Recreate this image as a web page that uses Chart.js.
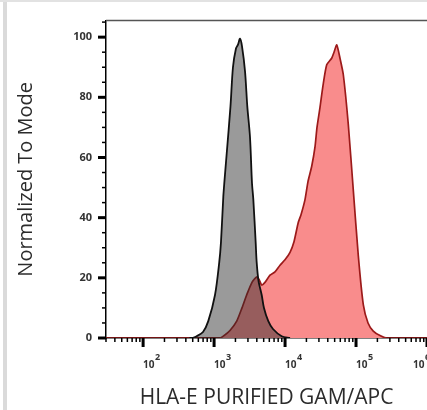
<!DOCTYPE html>
<html>
<head>
<meta charset="utf-8">
<title>HLA-E histogram</title>
<script src="https://cdn.jsdelivr.net/npm/chart.js@4.4.1/dist/chart.umd.min.js"></script>
<style>
  html, body { margin: 0; padding: 0; background: #fff; overflow: hidden; }
  #wrap { position: relative; width: 427px; height: 410px; }
  #frameLeft { position: absolute; left: 3px; top: 0; width: 4px; height: 410px; background: #dadada; }
  #frameTop { position: absolute; left: 0; top: 0; width: 427px; height: 2px; background: #e2e2e2; }
</style>
</head>
<body>
<div id="wrap">
  <canvas id="histChart" width="427" height="410"></canvas>
  <div id="frameLeft"></div>
  <div id="frameTop"></div>
</div>
<script>
// Overlaid flow cytometry histograms: isotype control (grey) vs HLA-E stained (red).

// Isotype control histogram (fluorescence intensity, % of mode)
const GREY_X = [450, 489, 569, 698, 828, 1030, 1183, 1250, 1349, 1393, 1507, 1702, 1845,
  2037, 2173, 2317, 2472, 2729, 2938, 3206, 3420, 3573, 3855, 3981, 4227, 4688, 5047,
  5808, 6761, 8974, 11749];
const GREY_Y = [0, 0, 0.6, 2, 5.6, 14.3, 25.2, 31.8, 47, 51.5, 61.4, 77, 90,
  96.3, 97.5, 99.5, 97, 88.6, 77, 66.8, 51.5, 46, 31.8, 25.2, 19, 14.3, 10,
  5.6, 3, 0.6, 0];

// HLA-E stained histogram
const RED_X = [30, 1211, 1349, 1675, 2084, 2472, 2877, 3420, 3981, 4295, 4688, 5212, 6138,
  7211, 8492, 9977, 11749, 13366, 15346, 16788, 19099, 21038, 23714, 26424, 28184, 31046,
  34277, 38637, 45394, 48978, 53456, 59429, 66222, 77804, 91622, 107647, 126765, 147571,
  174985, 217771, 270396, 1000000];
const RED_Y = [0, 0, 0.6, 2.5, 5.6, 10, 14.3, 18.5, 20.3, 19.5, 17.6, 18.5, 20.9,
  22, 24.2, 26, 28.5, 32, 38.4, 41, 46, 52, 57, 63.5, 70, 76.6,
  84, 90.8, 93, 95, 97.4, 93, 87.5, 71, 49, 27.4, 11, 5,
  2.3, 0.8, 0, 0];

// Axis ticks
const X_TICKS = [1e2, 1e3, 1e4, 1e5, 1e6];
const X_MINOR_MULT = [2, 3, 4, 5, 6, 7, 8, 9];
const Y_TICKS = [0, 20, 40, 60, 80, 100];
const Y_MINOR_STEP = 5;

const X_MIN = 30;
const X_MAX = 1e6;
const Y_MIN = 0;
const Y_MAX = 105.5;

const toPoints = (xs, ys) => xs.map((x, i) => ({ x, y: ys[i] }));

// Draws the frame top, the major/minor tick marks and the 10^n labels
const axisMarks = {
  id: "axisMarks",
  afterDraw(chart) {
    const { ctx, chartArea: a, scales: { x, y } } = chart;
    ctx.save();

    // top frame line
    ctx.strokeStyle = "#555";
    ctx.lineWidth = 1.5;
    ctx.beginPath();
    ctx.moveTo(a.left, a.top);
    ctx.lineTo(a.right, a.top);
    ctx.stroke();

    ctx.strokeStyle = "#000";

    // y ticks
    for (let v = Y_MIN; v <= Y_MAX; v += Y_MINOR_STEP) {
      const py = y.getPixelForValue(v);
      const major = Y_TICKS.includes(v);
      ctx.lineWidth = major ? 3 : 1.5;
      ctx.beginPath();
      ctx.moveTo(a.left - (major ? 8 : 4), py);
      ctx.lineTo(a.left, py);
      ctx.stroke();
    }

    // x ticks
    const decades = [10].concat(X_TICKS);
    decades.forEach((d) => {
      X_MINOR_MULT.forEach((m) => {
        const v = d * m;
        if (v < X_MIN || v > X_MAX) return;
        const px = x.getPixelForValue(v);
        ctx.lineWidth = 1.5;
        ctx.beginPath();
        ctx.moveTo(px, a.bottom);
        ctx.lineTo(px, a.bottom + 4);
        ctx.stroke();
      });
    });
    X_TICKS.forEach((v) => {
      const px = x.getPixelForValue(v);
      ctx.lineWidth = 3;
      ctx.beginPath();
      ctx.moveTo(px, a.bottom);
      ctx.lineTo(px, a.bottom + 9);
      ctx.stroke();
    });

    // x labels: 10 with a raised exponent
    ctx.fillStyle = "#333";
    ctx.textBaseline = "middle";
    ctx.textAlign = "left";
    X_TICKS.forEach((v) => {
      const px = Math.min(x.getPixelForValue(v), chart.width - 14);
      ctx.font = "bold 10px 'Open Sans'";
      ctx.fillText("10", px, a.bottom + 27);
      ctx.font = "bold 9px 'Open Sans'";
      ctx.fillText(String(Math.round(Math.log10(v))), px + 12, a.bottom + 19);
    });

    ctx.restore();
  }
};

new Chart(document.getElementById("histChart"), {
  type: "line",
  data: {
    datasets: [
      {
        label: "Isotype control",
        data: toPoints(GREY_X, GREY_Y),
        borderColor: "#111",
        borderWidth: 1.8,
        backgroundColor: "rgba(40,40,40,0.47)",
        fill: "origin",
        pointRadius: 0,
        tension: 0.3
      },
      {
        label: "HLA-E",
        data: toPoints(RED_X, RED_Y),
        borderColor: "#9c1a1a",
        borderWidth: 1.7,
        backgroundColor: "#f98c8c",
        fill: "origin",
        pointRadius: 0,
        tension: 0.2
      }
    ]
  },
  options: {
    responsive: false,
    animation: false,
    layout: { padding: { top: 15, left: 0, right: 0, bottom: 0 } },
    plugins: {
      legend: { display: false },
      tooltip: { enabled: false }
    },
    scales: {
      x: {
        type: "logarithmic",
        min: X_MIN,
        max: X_MAX,
        grid: { display: false, drawTicks: false },
        border: { display: true, color: "#000", width: 1.5 },
        ticks: { display: false },
        afterBuildTicks: (s) => { s.ticks = X_TICKS.map((v) => ({ value: v })); },
        afterFit: (s) => { s.height = 72; },
        title: {
          display: true,
          text: "HLA-E PURIFIED GAM/APC",
          color: "#2b2b2b",
          font: { family: "Open Sans", size: 21, lineHeight: 1 },
          padding: { top: 0, bottom: 1 }
        }
      },
      y: {
        min: Y_MIN,
        max: Y_MAX,
        grid: { display: false, drawTicks: false },
        border: { display: true, color: "#000", width: 1.5 },
        ticks: {
          padding: 14,
          color: "#333",
          font: { family: "Open Sans", size: 11, weight: "bold" }
        },
        afterBuildTicks: (s) => { s.ticks = Y_TICKS.map((v) => ({ value: v })); },
        afterFit: (s) => { s.width = 106; },
        title: {
          display: true,
          text: "Normalized To Mode",
          color: "#2b2b2b",
          font: { family: "Open Sans", size: 20, lineHeight: 1.2 },
          padding: { top: 14, bottom: 0 }
        }
      }
    }
  },
  plugins: [axisMarks]
});
</script>
</body>
</html>
